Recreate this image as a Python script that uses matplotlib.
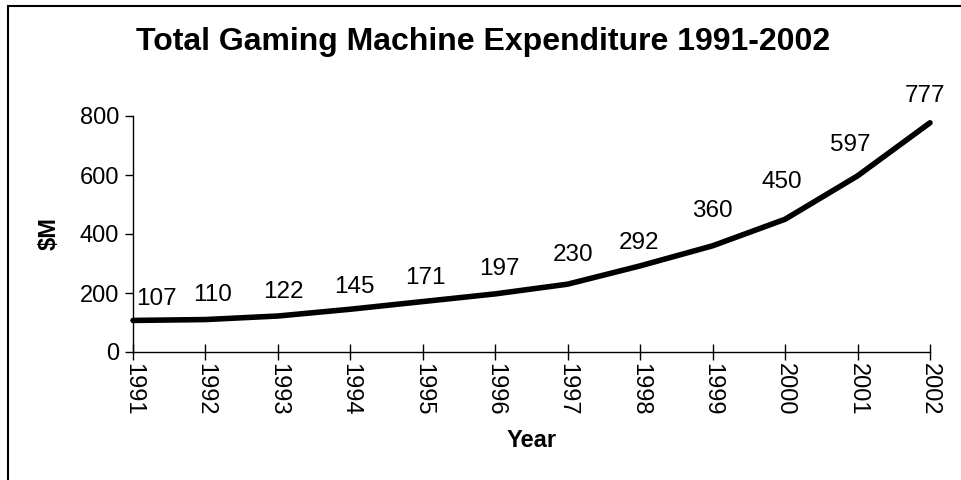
import matplotlib
matplotlib.use("Agg")
import matplotlib.pyplot as plt
from matplotlib.patches import Rectangle

years = ["1991", "1992", "1993", "1994", "1995", "1996",
         "1997", "1998", "1999", "2000", "2001", "2002"]
expenditure = [107, 110, 122, 145, 171, 197, 230, 292, 360, 450, 597, 777]
y_ticks = [0, 200, 400, 600, 800]

# label offsets in pixels (dx, dy) relative to each point - layout only
label_offsets = [(23, 21), (7, 25), (5, 24), (4, 22), (3, 24), (4, 25),
                 (5, 29), (-1, 23), (0, 35), (-3, 37), (-7, 31), (-5, 27)]

plt.rcParams['font.family'] = ['Liberation Sans', 'DejaVu Sans']

W, H = 962, 480
fig = plt.figure(figsize=(W / 100, H / 100), dpi=100)
fig.patch.set_facecolor('white')

# outer frame (only left and top visible in reference)
fig.patches.append(Rectangle((8 / W, -0.2), 1.5, 1.2 - 6 / H,
                             transform=fig.transFigure, fill=False,
                             edgecolor='black', linewidth=1.5))

ax = fig.add_axes([133 / W, 1 - 352 / H, (930 - 133) / W, (352 - 116) / H])
x = list(range(len(years)))
ax.plot(x, expenditure, color='black', linewidth=4, solid_capstyle='round',
        solid_joinstyle='round', clip_on=False)

for xi, v, (dx, dy) in zip(x, expenditure, label_offsets):
    ax.annotate(str(v), (xi, v), xytext=(dx * 0.72, dy * 0.72),
                textcoords='offset points', ha='center', va='center',
                fontsize=17.5, color='black')

ax.set_xlim(0, len(years) - 1)
ax.set_ylim(0, 800)
ax.set_yticks(y_ticks)
ax.set_xticks(x)
ax.set_xticklabels(years, rotation=-90, fontsize=17)
ax.tick_params(axis='y', labelsize=17, direction='out', length=6, width=1, pad=4)
ax.tick_params(axis='x', direction='inout', length=12, width=1, pad=2)

for s in ['top', 'right']:
    ax.spines[s].set_visible(False)
for s in ['left', 'bottom']:
    ax.spines[s].set_linewidth(1)

ax.set_ylabel('$M', fontsize=17, fontweight='bold')
ax.yaxis.set_label_coords(-(133 - 49) / (930 - 133), 0.5)
ax.yaxis.label.set_va('center')
ax.set_xlabel('Year', fontsize=17, fontweight='bold')
ax.xaxis.set_label_coords(0.5, -(441 - 352) / (352 - 116))
ax.xaxis.label.set_va('center')

fig.text(483 / W, 1 - 42 / H, 'Total Gaming Machine Expenditure 1991-2002',
         ha='center', va='center', fontsize=23, fontweight='bold')

fig.savefig('out.png', dpi=100, facecolor='white')
